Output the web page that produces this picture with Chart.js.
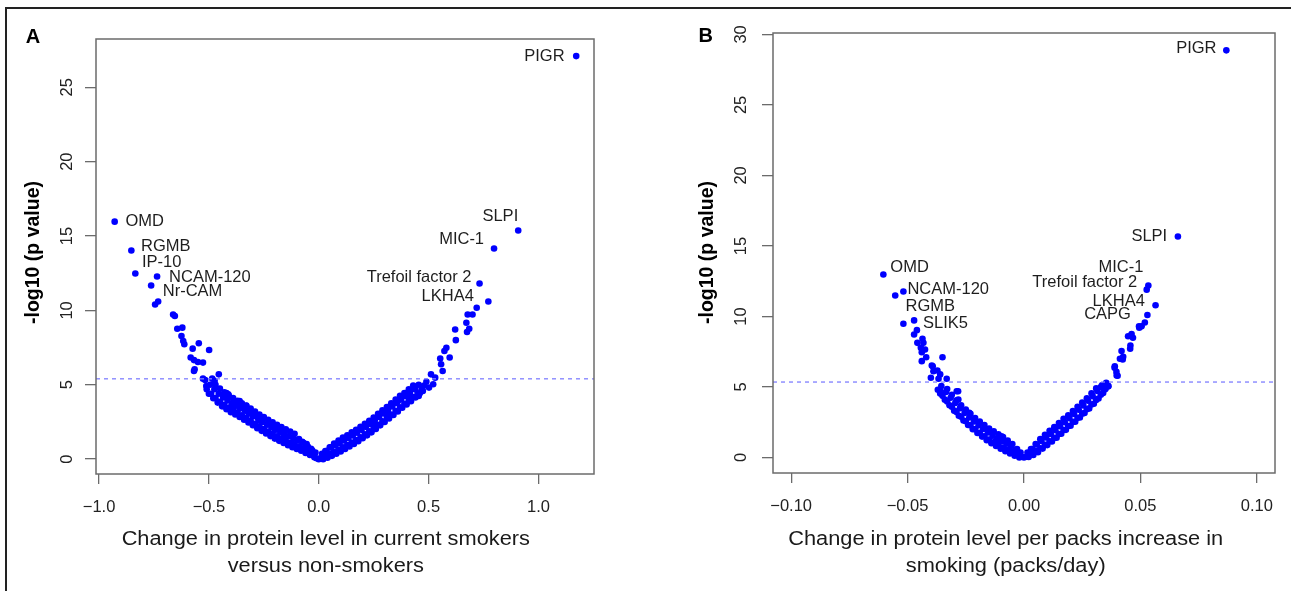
<!DOCTYPE html>
<html>
<head>
<meta charset="utf-8">
<script src="https://cdn.jsdelivr.net/npm/chart.js@4.4.1/dist/chart.umd.min.js"></script>
<style>
  body { margin: 0; background: #fff; width: 1291px; height: 591px; overflow: hidden; position: relative; }
  #frame { position: absolute; left: 5px; top: 7px; width: 1300px; height: 600px; border-top: 2px solid #222; border-left: 2px solid #222; }
  #chartA { position: absolute; left: 0; top: 0; }
  #chartB { position: absolute; left: 645px; top: 0; }
</style>
</head>
<body>
<div id="frame"></div>
<canvas id="chartA" width="645" height="591"></canvas>
<canvas id="chartB" width="646" height="591"></canvas>
<script>
// ---------- Panel A: current smokers vs non-smokers ----------
const aLeftX = [
  -0.02, -0.03, -0.04, -0.05, -0.06, -0.07, -0.08, -0.09, -0.10, -0.11,
  -0.12, -0.13, -0.14, -0.15, -0.16, -0.17, -0.18, -0.19, -0.20, -0.21,
  -0.22, -0.23, -0.24, -0.25, -0.26, -0.27, -0.28, -0.29, -0.30, -0.31,
  -0.32, -0.33, -0.34, -0.35, -0.36, -0.37, -0.38, -0.39, -0.40, -0.41,
  -0.42, -0.43, -0.44, -0.45, -0.46, -0.47, -0.48, -0.49, -0.50, -0.51
];
const aLeftY = [
  0.12, 0.42, 0.28, 0.58, 0.42, 0.72, 0.56, 0.86, 0.68, 0.98,
  0.80, 1.10, 0.94, 1.24, 1.08, 1.38, 1.23, 1.53, 1.38, 1.68,
  1.55, 1.85, 1.72, 2.02, 1.90, 2.20, 2.08, 2.38, 2.28, 2.58,
  2.47, 2.77, 2.65, 2.95, 2.83, 3.13, 3.00, 3.30, 3.15, 3.45,
  3.35, 3.65, 3.55, 3.85, 3.80, 4.10, 4.10, 4.40, 4.40, 4.70
];
const aLeftMidX = [
  -0.015, -0.035, -0.055, -0.075, -0.095, -0.115, -0.135, -0.155, -0.175, -0.195,
  -0.215, -0.235, -0.255, -0.275, -0.295, -0.315, -0.335, -0.355, -0.375, -0.395,
  -0.415, -0.435, -0.455, -0.475, -0.495
];
const aLeftMidY = [
  0.45, 0.70, 1.02, 1.16, 1.28, 1.40, 1.54, 1.68, 1.83, 1.98,
  2.15, 2.32, 2.50, 2.68, 2.88, 3.07, 3.25, 3.43, 3.60, 3.75,
  3.95, 4.15, 4.40, 4.70, 5.00
];
const aLeftInnerX = [
  -0.03, -0.05, -0.07, -0.09, -0.11, -0.13, -0.15, -0.17, -0.19, -0.21,
  -0.23, -0.25, -0.27, -0.29, -0.31, -0.33, -0.35, -0.37, -0.39, -0.41,
  -0.43, -0.45, -0.47
];
const aLeftInnerY = [
  0.60, 0.85, 1.10, 1.35, 1.70, 1.85, 2.00, 2.15, 2.30, 2.48,
  2.65, 2.83, 3.00, 3.20, 3.40, 3.58, 3.76, 3.93, 4.10, 4.30,
  4.50, 4.75, 5.00
];
const aRightX = [
  0.02, 0.03, 0.04, 0.05, 0.06, 0.07, 0.08, 0.09, 0.10, 0.11,
  0.12, 0.13, 0.14, 0.15, 0.16, 0.17, 0.18, 0.19, 0.20, 0.21,
  0.22, 0.23, 0.24, 0.25, 0.26, 0.27, 0.28, 0.29, 0.30, 0.31,
  0.32, 0.33, 0.34, 0.35, 0.36, 0.37, 0.38, 0.39, 0.40, 0.41,
  0.42, 0.43, 0.44, 0.45, 0.46, 0.47
];
const aRightY = [
  0.00, 0.24, 0.09, 0.36, 0.22, 0.49, 0.37, 0.64, 0.52, 0.79,
  0.68, 0.95, 0.85, 1.12, 1.02, 1.29, 1.20, 1.47, 1.40, 1.67,
  1.60, 1.87, 1.80, 2.07, 2.03, 2.30, 2.27, 2.54, 2.50, 2.77,
  2.73, 3.00, 2.97, 3.24, 3.21, 3.48, 3.45, 3.72, 3.67, 3.94,
  3.90, 4.17, 4.15, 4.42, 4.43, 4.70
];
const aRightMidX = [
  0.015, 0.035, 0.055, 0.075, 0.095, 0.115, 0.135, 0.155, 0.175, 0.195,
  0.215, 0.235, 0.255, 0.275, 0.295, 0.315, 0.335, 0.355, 0.375, 0.395,
  0.415, 0.435, 0.455
];
const aRightMidY = [
  0.35, 0.55, 0.79, 0.94, 1.09, 1.25, 1.42, 1.59, 1.77, 1.97,
  2.17, 2.37, 2.60, 2.84, 3.07, 3.30, 3.54, 3.78, 4.02, 4.24,
  4.47, 4.72, 5.00
];
const aRightInnerX = [
  0.03, 0.05, 0.07, 0.09, 0.11, 0.13, 0.15, 0.17, 0.19, 0.21,
  0.23, 0.25, 0.27, 0.29, 0.31, 0.33, 0.35, 0.37, 0.39, 0.41, 0.43
];
const aRightInnerY = [
  0.55, 0.80, 1.05, 1.25, 1.45, 1.60, 1.80, 1.97, 2.17, 2.37,
  2.57, 2.80, 3.05, 3.28, 3.50, 3.75, 4.00, 4.25, 4.45, 4.70, 4.95
];
const aScatterX = [
  -0.01, 0.00, 0.01,
  -0.29, -0.32, -0.344, -0.36, -0.397, -0.412, -0.43, -0.123, -0.116, -0.13, -0.27, -0.30, -0.38, -0.42,
  -0.36, -0.33, -0.20, -0.16, 0.36, 0.40, 0.44,
  0.256, 0.264, 0.313, 0.49, 0.48,
  -0.745, -0.731, -0.663, -0.655, -0.644, -0.621, -0.625, -0.617, -0.612, -0.574,
  -0.546, -0.499, -0.583, -0.568, -0.55, -0.527, -0.565, -0.568, -0.455, -0.527,
  -0.517, -0.485, -0.474, -0.512,
  0.719, 0.70, 0.678, 0.672, 0.685, 0.675, 0.621, 0.624, 0.581, 0.572,
  0.553, 0.596, 0.557, 0.564, 0.511, 0.53, 0.521, 0.502, 0.474, 0.455, 0.417
];
const aScatterY = [
  0.06, 0.00, 0.05,
  3.0, 3.1, 3.47, 3.4, 3.58, 4.36, 4.3, 1.12, 1.0, 1.05, 2.6, 2.9, 3.7, 4.45,
  3.9, 3.6, 2.0, 1.5, 3.9, 4.3, 4.7,
  2.35, 2.24, 3.09, 5.2, 4.95,
  10.4, 10.6, 9.73, 9.62, 8.77, 8.84, 8.28, 7.94, 7.72, 7.43,
  7.79, 7.34, 6.83, 6.66, 6.53, 6.49, 6.04, 5.93, 5.7, 5.41,
  5.32, 5.41, 5.26, 4.92,
  10.18, 9.73, 9.73, 9.17, 8.77, 8.55, 8.72, 8.0, 7.49, 7.27,
  6.76, 6.83, 6.38, 5.93, 5.7, 5.48, 5.03, 4.81, 4.58, 4.25, 4.25
];
const aNames = ['PIGR', 'OMD', 'RGMB', 'IP-10', 'NCAM-120', 'Nr-CAM', 'SLPI', 'MIC-1', 'Trefoil factor 2', 'LKHA4'];
const aLabelX = [1.172, -0.929, -0.853, -0.835, -0.736, -0.763, 0.908, 0.798, 0.732, 0.772];
const aLabelY = [27.1, 15.97, 14.03, 12.48, 12.28, 11.68, 15.37, 14.16, 11.81, 10.6];
const aThreshold = 5.4;
const aXTicks = [-1.0, -0.5, 0.0, 0.5, 1.0];
const aYTicks = [0, 5, 10, 15, 20, 25];

// ---------- Panel B: per packs/day increase ----------
const bLeftX = [
  -0.002, -0.003, -0.004, -0.005, -0.006, -0.007, -0.008, -0.009, -0.010, -0.011,
  -0.012, -0.013, -0.014, -0.015, -0.016, -0.017, -0.018, -0.019, -0.020, -0.021,
  -0.022, -0.023, -0.024, -0.025, -0.026, -0.027, -0.028, -0.029, -0.030, -0.031,
  -0.032, -0.033, -0.034, -0.035, -0.036, -0.037
];
const bLeftY = [
  0.00, 0.27, 0.13, 0.40, 0.28, 0.55, 0.44, 0.71, 0.62, 0.89,
  0.81, 1.08, 1.01, 1.28, 1.23, 1.50, 1.48, 1.75, 1.74, 2.01,
  2.01, 2.28, 2.30, 2.57, 2.62, 2.89, 2.96, 3.23, 3.32, 3.59,
  3.70, 3.97, 4.10, 4.37, 4.53, 4.80
];
const bLeftMidX = [
  -0.0015, -0.0035, -0.0055, -0.0075, -0.0095, -0.0115, -0.0135, -0.0155, -0.0175, -0.0195,
  -0.0215, -0.0235, -0.0255, -0.0275, -0.0295, -0.0315, -0.0335, -0.0355
];
const bLeftMidY = [
  0.35, 0.55, 0.82, 0.98, 1.16, 1.35, 1.55, 1.77, 2.02, 2.28,
  2.55, 2.84, 3.16, 3.50, 3.86, 4.24, 4.64, 5.07
];
const bLeftInnerX = [
  -0.003, -0.005, -0.007, -0.009, -0.011, -0.013, -0.015, -0.017, -0.019, -0.021,
  -0.023, -0.025, -0.027, -0.029, -0.031, -0.033
];
const bLeftInnerY = [
  0.60, 0.95, 1.20, 1.45, 1.65, 1.85, 2.05, 2.30, 2.55, 2.80,
  3.10, 3.40, 3.70, 4.05, 4.45, 4.85
];
const bRightX = [
  0.002, 0.003, 0.004, 0.005, 0.006, 0.007, 0.008, 0.009, 0.010, 0.011,
  0.012, 0.013, 0.014, 0.015, 0.016, 0.017, 0.018, 0.019, 0.020, 0.021,
  0.022, 0.023, 0.024, 0.025, 0.026, 0.027, 0.028, 0.029, 0.030, 0.031,
  0.032, 0.033, 0.034, 0.035
];
const bRightY = [
  0.03, 0.30, 0.18, 0.45, 0.38, 0.65, 0.63, 0.90, 0.88, 1.15,
  1.13, 1.40, 1.40, 1.67, 1.68, 1.95, 1.96, 2.23, 2.25, 2.52,
  2.54, 2.81, 2.84, 3.11, 3.15, 3.42, 3.48, 3.75, 3.81, 4.08,
  4.18, 4.45, 4.58, 4.85
];
const bRightMidX = [
  0.0015, 0.0035, 0.0055, 0.0075, 0.0095, 0.0115, 0.0135, 0.0155, 0.0175, 0.0195,
  0.0215, 0.0235, 0.0255, 0.0275, 0.0295, 0.0315, 0.0335
];
const bRightMidY = [
  0.35, 0.60, 0.92, 1.17, 1.42, 1.67, 1.94, 2.22, 2.50, 2.79,
  3.08, 3.38, 3.69, 4.02, 4.35, 4.72, 5.12
];
const bRightInnerX = [
  0.003, 0.005, 0.007, 0.009, 0.011, 0.013, 0.015, 0.017, 0.019, 0.021,
  0.023, 0.025, 0.027, 0.029, 0.031
];
const bRightInnerY = [
  0.60, 0.95, 1.30, 1.60, 1.90, 2.15, 2.45, 2.75, 3.00, 3.30,
  3.60, 3.90, 4.20, 4.55, 4.90
];
const bScatterX = [
  0.000, 0.001, -0.001,
  -0.0097, -0.0089, -0.0191, -0.0235, -0.0283, -0.0289, -0.0282, -0.012, 0.033, 0.0345, 0.0362, 0.0353,
  -0.0518, -0.046, -0.0472, -0.0436, -0.0458, -0.0432, -0.0443, -0.0425, -0.0439, -0.042,
  -0.0439, -0.035, -0.0396, -0.0389, -0.0372, -0.036, -0.04, -0.0367, -0.0332, -0.036, -0.0392,
  0.0519, 0.0505, 0.0494, 0.0462, 0.0447, 0.0457, 0.0419, 0.0426, 0.0412, 0.039,
  0.0397, 0.0402, 0.0355, 0.0495, 0.0468, 0.0456, 0.0424, 0.0389, 0.0398, 0.0362
];
const bScatterY = [
  0.00, 0.05, 0.05,
  1.51, 1.23, 2.46, 3.17, 4.7, 4.7, 4.11, 1.2, 5.0, 4.82, 5.06, 5.3,
  9.48, 9.03, 8.72, 8.42, 8.13, 8.13, 7.78, 7.66, 7.47, 7.11,
  6.83, 7.11, 6.52, 6.12, 6.17, 5.89, 5.65, 5.58, 5.58, 4.82, 6.47,
  9.57, 9.3, 9.3, 8.75, 8.6, 7.94, 7.55, 7.14, 7.0, 6.47,
  6.07, 5.8, 5.13, 9.2, 8.49, 7.71, 6.95, 6.36, 5.82, 5.06
];
const bNames = ['PIGR', 'SLPI', 'OMD', 'NCAM-120', 'RGMB', 'SLIK5', 'MIC-1', 'Trefoil factor 2', 'LKHA4', 'CAPG'];
const bLabelX = [0.0869, 0.0661, -0.0604, -0.0518, -0.0553, -0.0472, 0.0534, 0.0527, 0.0565, 0.053];
const bLabelY = [28.87, 15.67, 12.98, 11.77, 11.49, 9.72, 12.2, 11.9, 10.8, 10.1];
const bThreshold = 5.35;
const bXTicks = [-0.10, -0.05, 0.00, 0.05, 0.10];
const bYTicks = [0, 5, 10, 15, 20, 25, 30];

const FONT = '"Liberation Sans", Arial, Helvetica, sans-serif';

function pts(xs, ys) {
  return xs.map((x, i) => ({ x: x, y: ys[i] }));
}

// box, protein names and titles
const decor = {
  id: 'decor',
  afterDraw(chart, args, o) {
    const ctx = chart.ctx;
    const a = chart.chartArea;
    const sx = chart.scales.x;
    const sy = chart.scales.y;
    ctx.save();
    ctx.strokeStyle = '#6b6b6b';
    ctx.lineWidth = 1.5;
    ctx.strokeRect(a.left, a.top, a.right - a.left, a.bottom - a.top);

    ctx.fillStyle = '#1e1e1e';
    ctx.font = '16.5px ' + FONT;
    ctx.textBaseline = 'middle';
    o.names.forEach((name, i) => {
      const off = o.offsets[i];
      ctx.textAlign = off[2];
      ctx.fillText(name, sx.getPixelForValue(o.xs[i]) + off[0], sy.getPixelForValue(o.ys[i]) + off[1]);
    });

    ctx.fillStyle = '#000';
    ctx.font = 'bold 20px ' + FONT;
    ctx.textAlign = 'center';
    ctx.fillText(o.letter, o.letterPos[0], o.letterPos[1]);

    ctx.save();
    ctx.translate(o.yTitlePos[0], o.yTitlePos[1]);
    ctx.rotate(-Math.PI / 2);
    ctx.font = 'bold 19.5px ' + FONT;
    ctx.fillText('-log10 (p value)', 0, 0);
    ctx.restore();

    ctx.fillStyle = '#1a1a1a';
    ctx.font = '20px ' + FONT;
    ctx.textBaseline = 'alphabetic';
    o.xTitle.forEach((line, i) => {
      ctx.save();
      ctx.translate(o.xTitlePos[0], o.xTitlePos[1] + i * 27);
      ctx.scale(1.09, 1);
      ctx.fillText(line, 0, 0);
      ctx.restore();
    });
    ctx.restore();
  }
};

function makeChart(id, cfg) {
  return new Chart(document.getElementById(id), {
    type: 'scatter',
    data: {
      datasets: [
        {
          data: cfg.points,
          pointRadius: 3.3,
          pointHoverRadius: 3.3,
          pointBackgroundColor: '#0000ff',
          pointBorderWidth: 0,
          order: 2
        },
        {
          type: 'line',
          data: [{ x: cfg.xMin, y: cfg.threshold }, { x: cfg.xMax, y: cfg.threshold }],
          borderColor: '#7f7fff',
          borderWidth: 1.3,
          borderDash: [4, 4],
          pointRadius: 0,
          fill: false,
          order: 1
        }
      ]
    },
    options: {
      responsive: false,
      animation: false,
      events: [],
      layout: { padding: cfg.padding },
      plugins: {
        legend: { display: false },
        tooltip: { enabled: false },
        decor: cfg.decor
      },
      scales: {
        x: {
          type: 'linear',
          position: 'bottom',
          min: cfg.xMin,
          max: cfg.xMax,
          afterBuildTicks: s => { s.ticks = cfg.xTicks.map(v => ({ value: v })); },
          afterFit: s => { s.height = cfg.xAxisHeight; },
          grid: { drawOnChartArea: false, drawTicks: true, tickLength: 10, color: '#6b6b6b', lineWidth: 1.3 },
          border: { display: false },
          ticks: {
            padding: 14,
            color: '#222',
            autoSkip: false,
            minRotation: 0,
            maxRotation: 0,
            font: { family: FONT, size: 16.5 },
            callback: v => v.toFixed(cfg.xDigits).replace('-', '\u2212')
          }
        },
        y: {
          type: 'linear',
          min: cfg.yMin,
          max: cfg.yMax,
          afterBuildTicks: s => { s.ticks = cfg.yTicks.map(v => ({ value: v })); },
          afterFit: s => { s.width = cfg.yAxisWidth; },
          grid: { drawOnChartArea: false, drawTicks: true, tickLength: 11, color: '#6b6b6b', lineWidth: 1.3 },
          border: { display: false },
          ticks: {
            padding: cfg.yPad,
            color: '#222',
            autoSkip: false,
            minRotation: 90,
            maxRotation: 90,
            crossAlign: 'center',
            font: { family: FONT, size: 16.5 },
            callback: v => String(v)
          }
        }
      }
    },
    plugins: [decor]
  });
}

makeChart('chartA', {
  points: pts(aLeftX, aLeftY).concat(pts(aLeftMidX, aLeftMidY), pts(aLeftInnerX, aLeftInnerY),
    pts(aRightX, aRightY), pts(aRightMidX, aRightMidY), pts(aRightInnerX, aRightInnerY),
    pts(aScatterX, aScatterY), pts(aLabelX, aLabelY)),
  threshold: aThreshold,
  xMin: -1.014, xMax: 1.253, yMin: -1.0, yMax: 28.25,
  xTicks: aXTicks, yTicks: aYTicks, xDigits: 1,
  padding: { left: 0, right: 51, top: 39, bottom: 0 },
  xAxisHeight: 117, yAxisWidth: 96, yPad: 8,
  decor: {
    names: aNames, xs: aLabelX, ys: aLabelY,
    offsets: [[-11.6, 0, 'right'], [10.8, 0, 'left'], [9.6, -4, 'left'], [6.7, -11, 'left'], [12, 1, 'left'],
              [11.6, 6, 'left'], [0, -14, 'right'], [-10, -9, 'right'], [-8, -6, 'right'], [-14.5, -5, 'right']],
    letter: 'A', letterPos: [33, 37],
    yTitlePos: [33.3, 252.5],
    xTitle: ['Change in protein level in current smokers', 'versus non-smokers'],
    xTitlePos: [325.8, 545]
  }
});

makeChart('chartB', {
  points: pts(bLeftX, bLeftY).concat(pts(bLeftMidX, bLeftMidY), pts(bLeftInnerX, bLeftInnerY),
    pts(bRightX, bRightY), pts(bRightMidX, bRightMidY), pts(bRightInnerX, bRightInnerY),
    pts(bScatterX, bScatterY), pts(bLabelX, bLabelY)),
  threshold: bThreshold,
  xMin: -0.1078, xMax: 0.1078, yMin: -1.1, yMax: 30.1,
  xTicks: bXTicks, yTicks: bYTicks, xDigits: 2,
  padding: { left: 0, right: 16, top: 33, bottom: 0 },
  xAxisHeight: 118, yAxisWidth: 128, yPad: 11.5,
  decor: {
    names: bNames, xs: bLabelX, ys: bLabelY,
    offsets: [[-9.8, -2, 'right'], [-10.7, 0, 'right'], [7, -7, 'left'], [4, -2, 'left'], [10.3, 11, 'left'],
              [9, 3, 'left'], [-5, -18, 'right'], [-9.5, -7, 'right'], [-10.7, -4, 'right'], [-16.5, -1, 'right']],
    letter: 'B', letterPos: [60.8, 36],
    yTitlePos: [62.8, 252.5],
    xTitle: ['Change in protein level per packs increase in', 'smoking (packs/day)'],
    xTitlePos: [360.7, 545]
  }
});
</script>
</body>
</html>
